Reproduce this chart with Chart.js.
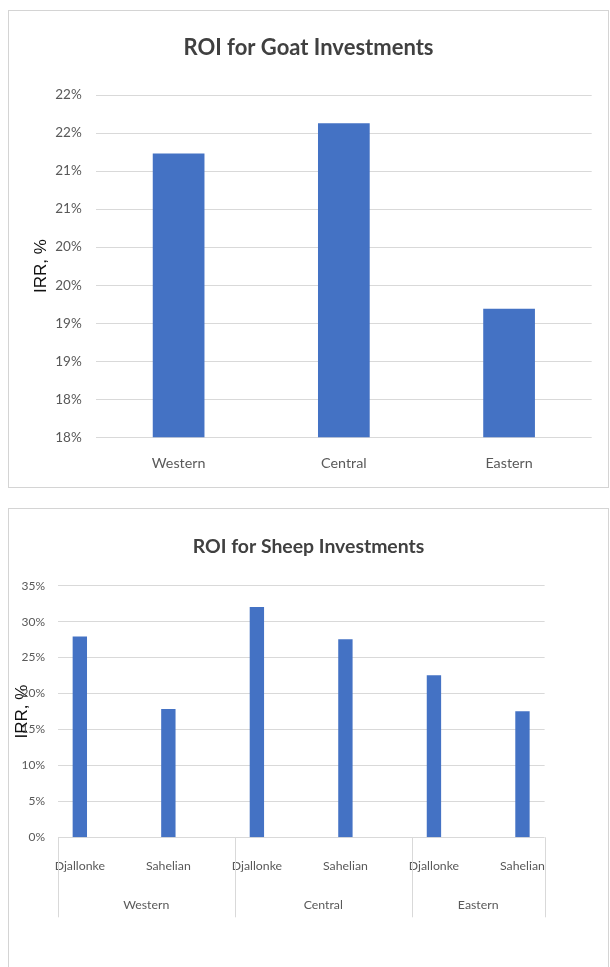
<!DOCTYPE html>
<html>
<head>
<meta charset="utf-8">
<title>ROI for Goat and Sheep Investments</title>
<script src="https://cdn.jsdelivr.net/npm/chart.js@4.4.1/dist/chart.umd.min.js"></script>
<style>
  html, body { margin: 0; padding: 0; background: #fff; width: 610px; height: 967px; overflow: hidden; }
  .panel { position: absolute; left: 8px; width: 599px; border: 1px solid #d4d4d4; background: #fff; }
  #goatPanel { top: 10px; height: 476px; }
  #sheepPanel { top: 508px; height: 470px; }
  canvas { display: block; }
</style>
</head>
<body>
<div class="panel" id="goatPanel"><canvas id="goat" width="599" height="476"></canvas></div>
<div class="panel" id="sheepPanel"><canvas id="sheep" width="599" height="470"></canvas></div>
<script>
// ---- Goats: IRR by region ----
const goatRegions = ['Western', 'Central', 'Eastern'];
const goatIRR = [21.23, 21.63, 19.19];
const goatAxisMin = 17.5;
const goatAxisMax = 22;
const goatAxisStep = 0.5;
const goatTickLabels = ['18%', '18%', '19%', '19%', '20%', '20%', '21%', '21%', '22%', '22%'];

// ---- Sheep: IRR by region and breed ----
const sheepRegions = ['Western', 'Central', 'Eastern'];
const sheepBreeds = ['Djallonke', 'Sahelian', 'Djallonke', 'Sahelian', 'Djallonke', 'Sahelian'];
const sheepIRR = [27.9, 17.8, 32.0, 27.5, 22.5, 17.5];
const sheepAxisMin = 0;
const sheepAxisMax = 35;
const sheepAxisStep = 5;
const sheepTickLabels = ['0%', '5%', '10%', '15%', '20%', '25%', '30%', '35%'];

const BLUE = '#4472C4';
const GRID = '#d9d9d9';
const TICK = '#595959';
const FACE = 'Lato, "DejaVu Sans Condensed", sans-serif';
const SANS = '"Liberation Sans", Arial, sans-serif';

Chart.defaults.font.family = FACE;

// Empty right-hand gutter so the plot stops short of the frame while the title stays centred on it
const gutter = width => ({
  position: 'right',
  grid: { display: false, drawTicks: false },
  border: { display: false },
  ticks: { display: false },
  afterFit: s => { s.width = width; }
});

// Goat chart
new Chart(document.getElementById('goat'), {
  type: 'bar',
  data: {
    labels: goatRegions,
    datasets: [{
      data: goatIRR,
      backgroundColor: BLUE,
      borderWidth: 0,
      categoryPercentage: 1,
      barPercentage: 0.313
    }]
  },
  options: {
    responsive: false,
    animation: false,
    devicePixelRatio: 1,
    layout: { padding: 0 },
    plugins: {
      legend: { display: false },
      tooltip: { enabled: false },
      title: {
        display: true,
        text: 'ROI for Goat Investments',
        color: '#404040',
        font: { family: FACE, size: 22, weight: 'bold', lineHeight: 1.2 },
        padding: { top: 23.3, bottom: 34.3 }
      }
    },
    scales: {
      x: {
        grid: { display: false, drawTicks: false },
        border: { display: false },
        ticks: { color: TICK, font: { size: 14.3, lineHeight: 1.2 }, padding: 17.1, maxRotation: 0 },
        afterFit: s => { s.height = 49.7; }
      },
      y: {
        min: goatAxisMin,
        max: goatAxisMax,
        grid: { color: GRID, drawTicks: false },
        border: { display: false },
        ticks: {
          stepSize: goatAxisStep,
          color: TICK,
          font: { size: 13.5 },
          padding: 14.3,
          callback: (v, i) => goatTickLabels[i]
        },
        title: {
          display: true,
          text: 'IRR, %',
          color: '#111',
          font: { family: SANS, size: 17, lineHeight: 1.2 },
          padding: { top: 21.8, bottom: 0 }
        },
        afterFit: s => { s.width = 87; }
      },
      gutter: gutter(16.3)
    }
  }
});

// Sheep chart: each bar sits a quarter slot into its slot, the axis stops a quarter slot past the last bar
const slotLead = 0.25;
const sheepXMin = -slotLead;
const sheepXMax = sheepBreeds.length - 1 + slotLead;
const breedsPerRegion = sheepBreeds.length / sheepRegions.length;
const regionStarts = sheepRegions.map((_, g) => g * breedsPerRegion - slotLead);
const regionEnds = regionStarts.map(s => Math.min(s + breedsPerRegion, sheepXMax));
const regionCenters = regionStarts.map((s, g) => (s + regionEnds[g]) / 2);
const regionDividers = regionStarts.concat([sheepXMax]);

const regionDividerPlugin = {
  id: 'regionDividers',
  afterDraw(chart) {
    const { ctx, chartArea, scales } = chart;
    const yBottom = scales.group.top + 30;
    ctx.save();
    ctx.strokeStyle = GRID;
    ctx.lineWidth = 1;
    regionDividers.forEach(v => {
      const px = Math.round(scales.x.getPixelForValue(v)) + 0.5;
      ctx.beginPath();
      ctx.moveTo(px, chartArea.bottom);
      ctx.lineTo(px, yBottom);
      ctx.stroke();
    });
    ctx.restore();
  }
};

new Chart(document.getElementById('sheep'), {
  type: 'bar',
  data: {
    datasets: [{
      data: sheepIRR.map((v, i) => ({ x: i, y: v })),
      backgroundColor: BLUE,
      borderWidth: 0,
      barThickness: 13.7
    }]
  },
  options: {
    responsive: false,
    animation: false,
    devicePixelRatio: 1,
    layout: { padding: { left: 0, right: 0, top: 0, bottom: 41.7 } },
    plugins: {
      legend: { display: false },
      tooltip: { enabled: false },
      title: {
        display: true,
        text: 'ROI for Sheep Investments',
        color: '#404040',
        font: { family: FACE, size: 19.4, weight: 'bold', lineHeight: 1.2 },
        padding: { top: 25.9, bottom: 27.5 }
      }
    },
    scales: {
      x: {
        type: 'linear',
        position: 'bottom',
        weight: 0,
        offset: false,
        min: sheepXMin,
        max: sheepXMax,
        afterBuildTicks: s => { s.ticks = sheepBreeds.map((_, i) => ({ value: i })); },
        grid: { display: false, drawTicks: false },
        border: { display: false },
        ticks: {
          autoSkip: false,
          maxRotation: 0,
          color: TICK,
          font: { size: 12.3, lineHeight: 1.2 },
          padding: 21.3,
          callback: v => sheepBreeds[v]
        },
        afterFit: s => { s.height = 50; }
      },
      group: {
        type: 'linear',
        axis: 'x',
        position: 'bottom',
        weight: 1,
        offset: false,
        min: sheepXMin,
        max: sheepXMax,
        afterBuildTicks: s => { s.ticks = regionCenters.map(v => ({ value: v })); },
        grid: { display: false, drawTicks: false },
        border: { display: false },
        ticks: {
          autoSkip: false,
          maxRotation: 0,
          color: TICK,
          font: { size: 12.3, lineHeight: 1.2 },
          padding: 10.3,
          callback: (v, i) => sheepRegions[i]
        },
        afterFit: s => { s.height = 50; }
      },
      y: {
        min: sheepAxisMin,
        max: sheepAxisMax,
        grid: { color: GRID, drawTicks: false },
        border: { display: false },
        ticks: {
          stepSize: sheepAxisStep,
          color: TICK,
          font: { size: 12 },
          padding: 12.7,
          callback: (v, i) => sheepTickLabels[i]
        },
        title: {
          display: true,
          text: 'IRR, %',
          color: '#111',
          font: { family: SANS, size: 17, lineHeight: 1.2 },
          padding: { top: 3.2, bottom: 0 }
        },
        afterFit: s => { s.width = 48.7; }
      },
      gutter: gutter(63.4)
    }
  },
  plugins: [regionDividerPlugin]
});
</script>
</body>
</html>
